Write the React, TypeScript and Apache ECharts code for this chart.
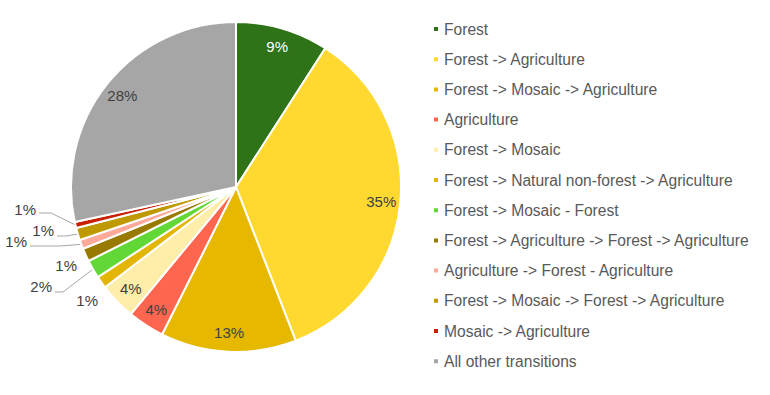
import React, { useEffect, useRef } from "react";
import * as echarts from "echarts";

const categories = [
  "Forest",
  "Forest -> Agriculture",
  "Forest -> Mosaic -> Agriculture",
  "Agriculture",
  "Forest -> Mosaic",
  "Forest -> Natural non-forest -> Agriculture",
  "Forest -> Mosaic - Forest",
  "Forest -> Agriculture -> Forest -> Agriculture",
  "Agriculture -> Forest - Agriculture",
  "Forest -> Mosaic -> Forest -> Agriculture",
  "Mosaic -> Agriculture",
  "All other transitions",
];

const values = [9.1, 35.0, 13.3, 3.6, 3.6, 1.2, 1.8, 1.3, 0.9, 1.2, 0.6, 28.4];

const colors = [
  "#2E7317",
  "#FFD92F",
  "#E6B800",
  "#FF6650",
  "#FFEDAA",
  "#E3B505",
  "#62D836",
  "#997A00",
  "#FFA99A",
  "#BF9900",
  "#C82000",
  "#A6A6A6",
];

// indices whose labels sit inside the pie
const insideLabels = [0, 1, 2, 3, 4, 11];

// placement for outside labels: text right edge, text center y, line y, bend x
const outsidePlacement: Record<number, { x: number; y: number; line?: { y: number; bx: number } }> = {
  5: { x: 98, y: 300 },
  6: { x: 52, y: 286, line: { y: 292, bx: 63 } },
  7: { x: 77, y: 265 },
  8: { x: 27, y: 241, line: { y: 246, bx: 60 } },
  9: { x: 54, y: 230, line: { y: 236, bx: 66 } },
  10: { x: 36, y: 209, line: { y: 213, bx: 51 } },
};

const FONT = "'Liberation Sans', Arial, sans-serif";

export default function App() {
  const ref = useRef<HTMLDivElement>(null);
  useEffect(() => {
    if (!ref.current) return;
    const chart = echarts.init(ref.current, undefined, { renderer: "svg" });
    const fmt = (p: any) => Math.round(p.percent) + "%";

    const mainData = categories.map((name, i) => {
      const outside = outsidePlacement[i];
      return {
        name,
        value: values[i],
        itemStyle: { color: colors[i] },
        label: { show: !!outside },
        labelLine: { show: !!(outside && outside.line) },
      };
    });
    const ringData = categories.map((name, i) => ({
      name,
      value: values[i],
      label: {
        show: insideLabels.includes(i),
        color: i === 0 ? "#FFFFFF" : "#404040",
      },
    }));

    chart.setOption({
      animation: false,
      legend: {
        orient: "vertical",
        left: 432,
        top: 20,
        padding: 0,
        itemWidth: 6,
        itemHeight: 6,
        itemGap: 12.2,
        icon: "rect",
        selectedMode: false,
        textStyle: { fontFamily: FONT, fontSize: 15.6, color: "#595959", lineHeight: 18 },
        data: categories.map((name, i) => ({ name, itemStyle: { color: colors[i] } })),
      },
      series: [
        {
          type: "pie",
          center: [236, 187],
          radius: [0, 165],
          startAngle: 90,
          clockwise: true,
          avoidLabelOverlap: false,
          silent: true,
          itemStyle: { borderColor: "#FFFFFF", borderWidth: 2 },
          label: {
            position: "outside",
            formatter: fmt,
            fontFamily: FONT,
            fontSize: 15,
            color: "#404040",
          },
          labelLine: { lineStyle: { color: "#A6A6A6", width: 1 }, length: 10, length2: 10 },
          labelLayout: (params: any) => {
            const pl = outsidePlacement[params.dataIndex];
            if (!pl) return {};
            const res: any = { x: pl.x, y: pl.y, align: "right", verticalAlign: "middle" };
            if (pl.line && params.labelLinePoints) {
              const p0 = params.labelLinePoints[0];
              res.labelLinePoints = [
                [p0[0], p0[1]],
                [pl.line.bx, pl.line.y],
                [pl.x + 3, pl.line.y],
              ];
            }
            return res;
          },
          data: mainData,
        },
        {
          type: "pie",
          center: [236, 187],
          radius: [123, 163],
          startAngle: 90,
          clockwise: true,
          silent: true,
          avoidLabelOverlap: false,
          itemStyle: { color: "rgba(0,0,0,0)", borderWidth: 0 },
          label: {
            position: "inside",
            formatter: fmt,
            fontFamily: FONT,
            fontSize: 15,
          },
          labelLine: { show: false },
          data: ringData,
        },
      ],
    });
    return () => chart.dispose();
  }, []);
  return (
    <div
      ref={ref}
      style={{ position: "absolute", left: 0, top: 0, width: 770, height: 395, background: "#fff" }}
    />
  );
}
